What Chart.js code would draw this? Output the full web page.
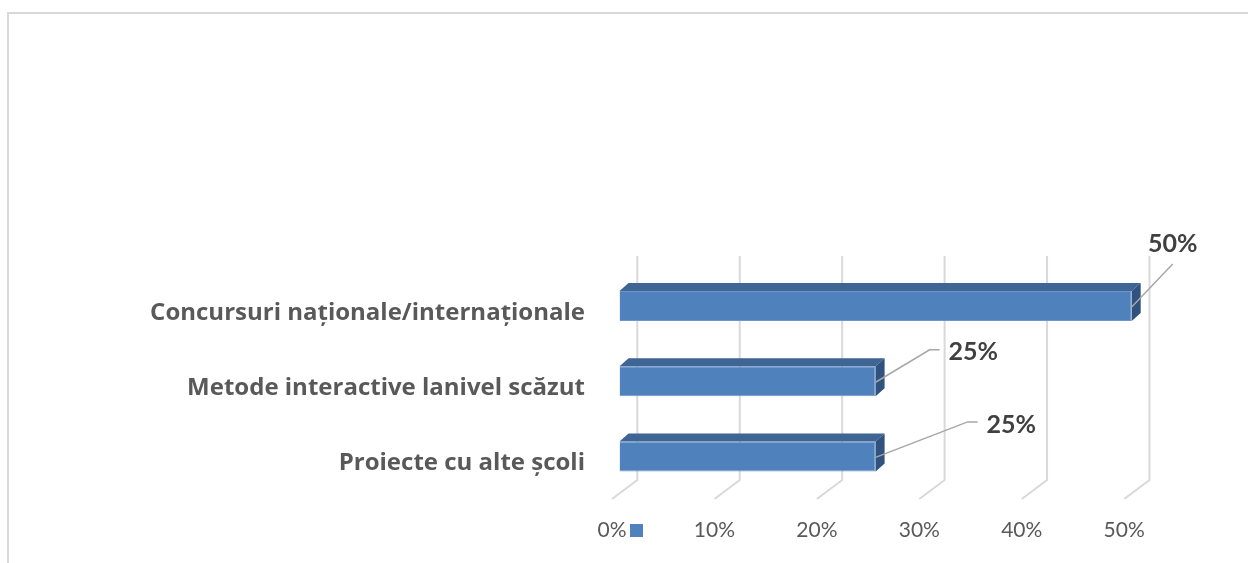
<!DOCTYPE html>
<html>
<head>
<meta charset="utf-8">
<script src="https://cdn.jsdelivr.net/npm/chart.js@4"></script>
<style>
  html, body { margin: 0; padding: 0; background: #fff; }
  #wrap { width: 1248px; height: 563px; }
</style>
</head>
<body>
<div id="wrap"><canvas id="myChart" width="1248" height="563"></canvas></div>
<script>
// date grafic
const categorii = ['Concursuri naționale/internaționale', 'Metode interactive lanivel scăzut', 'Proiecte cu alte școli'];
const valori = [50, 25, 25];
const tickuri = [0, 10, 20, 30, 40, 50];

// pozitii etichete (offset fata de capatul barei)
const etichetePoz = [
  { elbow: [41, -42], end: [41, -42], text: [41, -62], align: 'center' },
  { elbow: [54, -31.5], end: [64, -31.5], text: [73, -29.5], align: 'left' },
  { elbow: [92, -34.5], end: [102, -34.5], text: [111, -31.5], align: 'left' }
];

const ADANC = { dx: 9, dy: -8 };   // adancime bara
const PERETE = { dx: 17.8, top: 256, bottom: 480 };
const PODEA = { dx: -7.5, y: 499 };

const efect3d = {
  id: 'efect3d',
  beforeDraw(chart) {
    const ctx = chart.ctx;
    ctx.save();
    ctx.strokeStyle = '#d9d9d9';
    ctx.lineWidth = 2;
    ctx.beginPath();
    ctx.moveTo(8, 563);
    ctx.lineTo(8, 13);
    ctx.lineTo(1248, 13);
    ctx.stroke();
    ctx.restore();
  },
  beforeDatasetsDraw(chart) {
    const ctx = chart.ctx;
    const xs = chart.scales.x;
    ctx.save();
    ctx.strokeStyle = '#d9d9d9';
    ctx.lineWidth = 2;
    tickuri.forEach(v => {
      const xf = xs.getPixelForValue(v);
      const bx = xf + PERETE.dx;
      ctx.beginPath();
      ctx.moveTo(bx, PERETE.top);
      ctx.lineTo(bx, PERETE.bottom);
      ctx.lineTo(xf + PODEA.dx, PODEA.y);
      ctx.stroke();
    });
    ctx.restore();
  },
  afterDatasetsDraw(chart) {
    const ctx = chart.ctx;
    const meta = chart.getDatasetMeta(0);
    ctx.save();
    meta.data.forEach((bar, i) => {
      const xl = bar.base, xr = bar.x;
      const yt = bar.y - bar.height / 2, yb = bar.y + bar.height / 2;
      // fata de sus
      ctx.fillStyle = '#3e6594';
      ctx.beginPath();
      ctx.moveTo(xl, yt);
      ctx.lineTo(xl + ADANC.dx, yt + ADANC.dy);
      ctx.lineTo(xr + ADANC.dx, yt + ADANC.dy);
      ctx.lineTo(xr, yt);
      ctx.closePath();
      ctx.fill();
      // fata laterala
      ctx.fillStyle = '#2f527f';
      ctx.beginPath();
      ctx.moveTo(xr, yt);
      ctx.lineTo(xr + ADANC.dx, yt + ADANC.dy);
      ctx.lineTo(xr + ADANC.dx, yb + ADANC.dy);
      ctx.lineTo(xr, yb);
      ctx.closePath();
      ctx.fill();

      // linie ghid + eticheta
      const p = etichetePoz[i];
      ctx.strokeStyle = '#a6a6a6';
      ctx.lineWidth = 1.5;
      ctx.beginPath();
      ctx.moveTo(xr, bar.y + 1);
      ctx.lineTo(xr + p.elbow[0], bar.y + p.elbow[1]);
      ctx.lineTo(xr + p.end[0], bar.y + p.end[1]);
      ctx.stroke();
      ctx.fillStyle = '#404040';
      ctx.font = 'bold 25px Lato';
      ctx.textAlign = p.align;
      ctx.textBaseline = 'middle';
      ctx.fillText(valori[i] + '%', xr + p.text[0], bar.y + p.text[1]);
    });
    // patrat legenda
    const x0 = chart.scales.x.getPixelForValue(0);
    ctx.fillStyle = '#4f81bd';
    ctx.fillRect(x0 + 10.5, 524, 13, 13);
    ctx.restore();
  }
};

const canvas = document.getElementById('myChart');
const ctx = canvas.getContext('2d');

const chart = new Chart(ctx, {
  type: 'bar',
  data: {
    labels: categorii,
    datasets: [{
      label: '',
      data: valori,
      backgroundColor: '#4f81bd',
      borderColor: '#6d97cc',
      borderWidth: 1,
      barPercentage: 0.4,
      categoryPercentage: 1
    }]
  },
  options: {
    indexAxis: 'y',
    responsive: false,
    animation: false,
    layout: { padding: { top: 268.5, right: 116.3, bottom: 0, left: 0 } },
    plugins: {
      legend: { display: false },
      tooltip: { enabled: false }
    },
    scales: {
      x: {
        min: 0,
        max: 50,
        afterFit: s => { s.height = 69; },
        afterBuildTicks: s => { s.ticks = tickuri.map(v => ({ value: v })); },
        grid: { display: false, drawTicks: false },
        border: { display: false },
        ticks: {
          callback: v => v + '%',
          font: { family: 'Lato', size: 21 },
          color: '#595959',
          padding: 24,
          labelOffset: -7.5
        }
      },
      y: {
        afterFit: s => { s.width = 619.5; },
        grid: { display: false, drawTicks: false },
        border: { display: false },
        ticks: {
          font: { family: 'Open Sans', size: 24, weight: 'bold' },
          color: '#595959',
          padding: 34.5,
          labelOffset: 7
        }
      }
    }
  },
  plugins: [efect3d]
});
</script>
</body>
</html>
